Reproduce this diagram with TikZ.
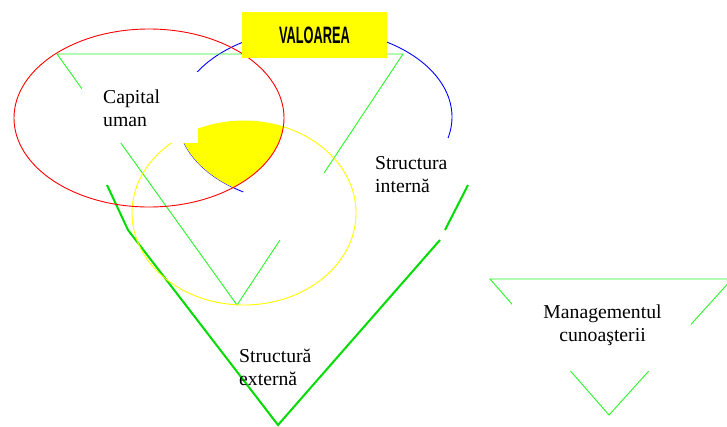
\documentclass[tikz,border=0pt]{standalone}
\usepackage{fontspec}
\setmainfont{Liberation Serif}
\newfontfamily\valfont{Liberation Sans}
\usepackage{graphicx}
\definecolor{thinG}{RGB}{40,245,40}
\definecolor{thickG}{RGB}{0,220,0}
\definecolor{pureY}{RGB}{255,255,0}
\begin{document}
\begin{tikzpicture}[x=1pt,y=-1pt,
  ring/.style={line width=0.9pt},
  thinline/.style={draw=thinG, line width=0.9pt},
  vline/.style={draw=thickG, line width=2pt, line join=miter},
  mask/.style={fill=white},
  lbl/.style={font=\fontsize{19.7}{23}\selectfont, inner sep=0pt, align=left},
  valbox/.style={fill=pureY, inner sep=0pt, minimum width=145pt, minimum height=46pt}]
\useasboundingbox (0,0) rectangle (727,426);
\clip (0,0) rectangle (727,426);
% named corner points
\coordinate (TA) at (57,54);
\coordinate (TB) at (403,54);
\coordinate (TC) at (237,305);
\coordinate (TBgap) at (324,173);
\coordinate (TCgap) at (280,240);
\coordinate (V1) at (107,185);
\coordinate (V2) at (128,230);
\coordinate (V3) at (278,425);
\coordinate (V4) at (440,240);
\coordinate (V5) at (445,230);
\coordinate (V6) at (468,185);
\coordinate (M1) at (490,279);
\coordinate (M2) at (732,279);
\coordinate (M3) at (609,415);
% blue arc (visible part)
\draw[ring, blue] plot[domain=-238.4:13.8, samples=120, smooth] ({315+137*cos(\x)}, {117+88*sin(\x)});
% thin green triangle
\draw[thinline] (TC) -- (TA) -- (TB) -- (TBgap);
\draw[thinline] (TCgap) -- (TC);
% big green V
\draw[vline] (V1) -- (V2) -- (V3) -- (V4);
\draw[vline] (V5) -- (V6);
% management triangle
\draw[thinline] (M1) -- (M2) -- (M3) -- cycle;
% yellow intersection
\begin{scope}
  \clip (149,118) ellipse [x radius=135, y radius=89];
  \clip (315,117) ellipse [x radius=137, y radius=88];
  \fill[pureY] (244,213) ellipse [x radius=112, y radius=92];
\end{scope}
% ellipses
\draw[ring, pureY] (244,213) ellipse [x radius=112, y radius=92];
\draw[ring, red] (149,118) ellipse [x radius=135, y radius=89];
% white text boxes
\fill[mask] (82,72) rectangle (198,143);
\fill[mask] (512,290) rectangle (691,371);
% value box
\node[valbox] (val) at (314.5,35) {\scalebox{0.54}[1]{\valfont\bfseries\fontsize{23.7}{24}\selectfont VALOAREA}};
% labels (anchor at baseline of last line)
\node[lbl, anchor=base west] (cu) at (103,126) {Capital\\uman};
\node[lbl, anchor=base west] (si) at (375,192) {Structura\\intern\u{a}};
\node[lbl, anchor=base west] (se) at (239,385) {Structur\u{a}\\extern\u{a}};
\node[lbl, align=center, anchor=base] (mc) at (602.5,341) {Managementul\\cunoaşterii};
\end{tikzpicture}
\end{document}
